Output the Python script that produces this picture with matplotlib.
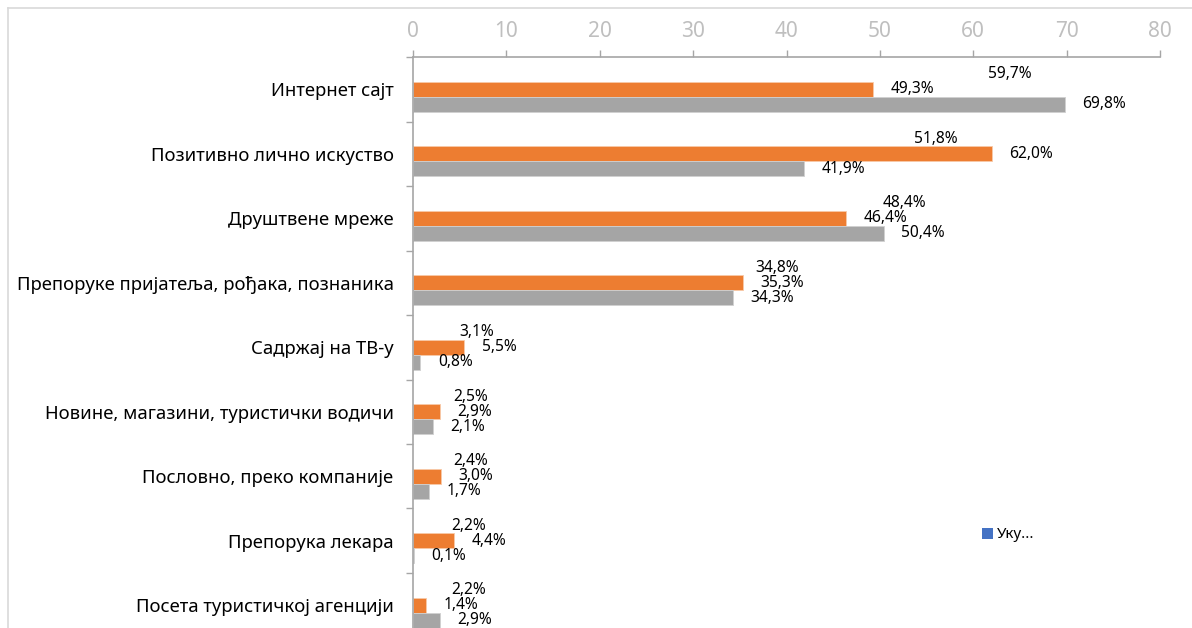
import matplotlib
matplotlib.use('Agg')
import matplotlib.pyplot as plt
from matplotlib.patches import Patch
from matplotlib.lines import Line2D
import numpy as np

plt.rcParams['font.family'] = ['Noto Sans', 'DejaVu Sans']

categories = [
    'Интернет сајт',
    'Позитивно лично искуство',
    'Друштвене мреже',
    'Препоруке пријатеља, рођака, познаника',
    'Садржај на ТВ-у',
    'Новине, магазини, туристички водичи',
    'Пословно, преко компаније',
    'Препорука лекара',
    'Посета туристичкој агенцији',
]
total = [59.7, 51.8, 48.4, 34.8, 3.1, 2.5, 2.4, 2.2, 2.2]
series_orange = [49.3, 62.0, 46.4, 35.3, 5.5, 2.9, 3.0, 4.4, 1.4]
series_gray = [69.8, 41.9, 50.4, 34.3, 0.8, 2.1, 1.7, 0.1, 2.9]
x_ticks = [0, 10, 20, 30, 40, 50, 60, 70, 80]

BLUE = '#4472C4'
ORANGE = '#ED7D31'
GRAY = '#A5A5A5'
AXIS_GRAY = '#A6A6A6'


def pct(values):
    return [f'{v:.1f}%'.replace('.', ',') for v in values]


fig = plt.figure(figsize=(11.92, 6.28), dpi=100)
ax = fig.add_axes([413 / 1192, -0.0151, 747 / 1192, 0.9243])

y = np.arange(len(categories))
h = 0.2326

# the total series has no fill, only its labels are shown
b_total = ax.barh(y - h, total, height=h, color='none', linewidth=0)
b_orange = ax.barh(y, series_orange, height=h, color=ORANGE,
                   edgecolor='#F8C9A8', linewidth=0.6)
b_gray = ax.barh(y + h, series_gray, height=h, color=GRAY,
                 edgecolor='#D0D0D0', linewidth=0.6)

for bars, vals in [(b_total, total), (b_orange, series_orange), (b_gray, series_gray)]:
    ax.bar_label(bars, labels=pct(vals), padding=12.5, fontsize=11.2, color='#000000')

ax.set_xlim(0, 80)
ax.set_ylim(len(categories) - 0.5, -0.5)

ax.xaxis.tick_top()
ax.set_xticks(x_ticks)
ax.tick_params(axis='x', which='major', length=5, width=1, color=AXIS_GRAY,
               labelcolor='#BFBFBF', labelsize=15, pad=6)

ax.set_yticks(y)
ax.set_yticklabels(categories, fontsize=13.3)
ax.set_yticks(np.arange(-0.5, len(categories), 1), minor=True)
ax.tick_params(axis='y', which='major', length=0, pad=14)
ax.tick_params(axis='y', which='minor', length=5, width=1, color=AXIS_GRAY)

for side in ['right', 'bottom']:
    ax.spines[side].set_visible(False)
for side in ['top', 'left']:
    ax.spines[side].set_color(AXIS_GRAY)
    ax.spines[side].set_linewidth(1.2)

ax.legend(handles=[Patch(facecolor=BLUE, label='Уку...')],
          loc='center left', bbox_to_anchor=(982 / 1192, 1 - 535 / 628),
          bbox_transform=fig.transFigure, frameon=False, fontsize=11,
          handlelength=0.7, handleheight=0.7, handletextpad=0.3,
          borderpad=0, borderaxespad=0)

# outer chart frame
fig.add_artist(Line2D([8 / 1192, 8 / 1192], [0, 1 - 8 / 628],
                      transform=fig.transFigure, color='#D9D9D9', linewidth=1.2))
fig.add_artist(Line2D([8 / 1192, 1], [1 - 8 / 628, 1 - 8 / 628],
                      transform=fig.transFigure, color='#D9D9D9', linewidth=1.2))

fig.savefig('out.png', dpi=100)
